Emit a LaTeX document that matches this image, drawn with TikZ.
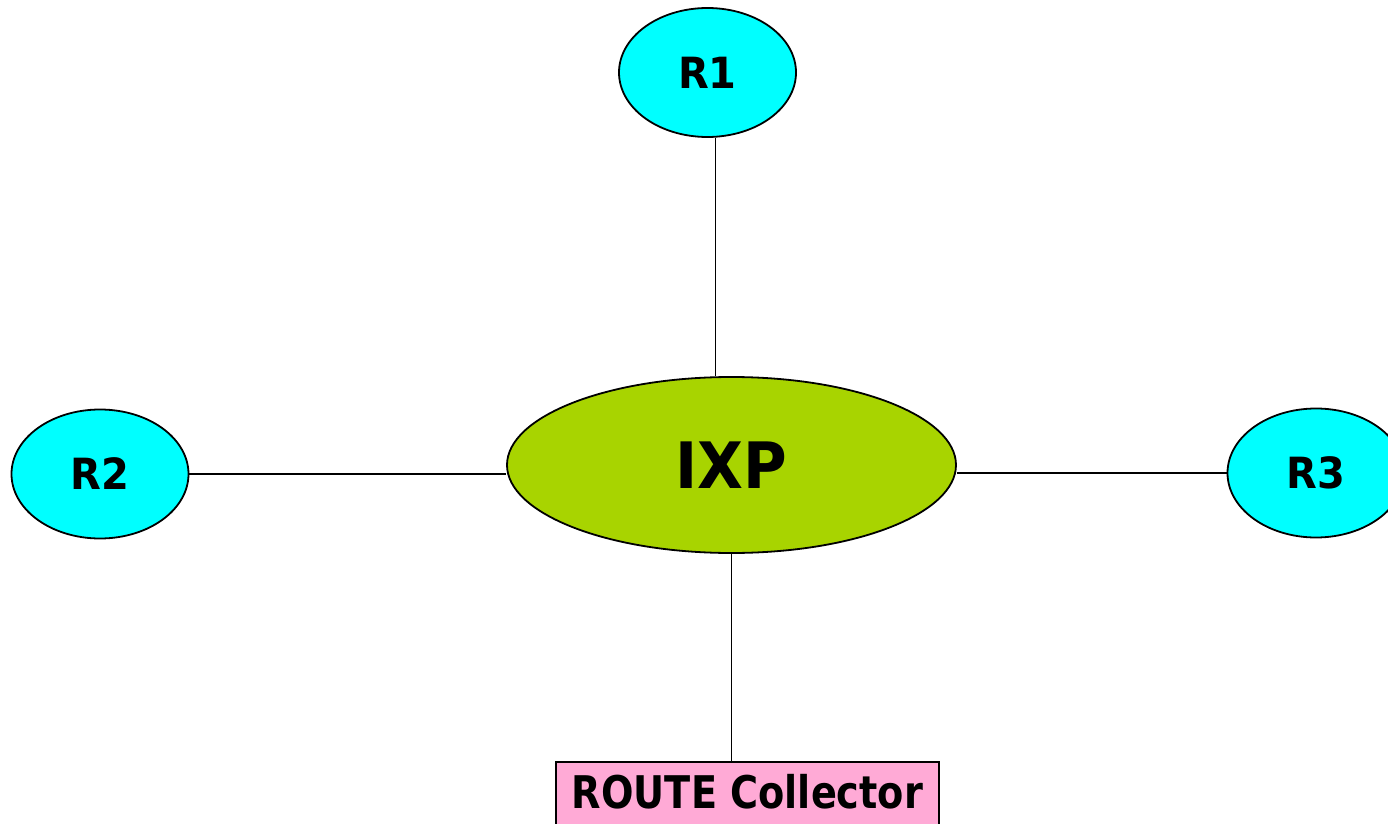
\documentclass[tikz,border=0pt]{standalone}
\usepackage{fontspec}
\setmainfont{DejaVu Sans}[FakeStretch=0.93]
\newfontfamily\collectorfont{DejaVu Sans}[FakeStretch=0.85]
\usepackage{xcolor}
\definecolor{colorRouter}{RGB}{0,255,255}
\definecolor{colorIXP}{RGB}{168,212,0}
\definecolor{colorCollector}{RGB}{255,170,214}
\usetikzlibrary{shapes.geometric}
\tikzset{router/.style={ellipse, draw, line width=0.9pt, fill=colorRouter, inner sep=0pt,
    minimum width=88.5pt, minimum height=64.5pt, font=\fontsize{21.5}{24}\selectfont\bfseries}}

\begin{document}
\begin{tikzpicture}[x=0.5pt, y=-0.5pt, line width=0.75pt]
\useasboundingbox (0,0) rectangle (1388,824);
\node[router] (r1) at (707.5,72.5) {R1};
\node[router] (r2) at (100,474) {R2};
\node[router] (r3) at (1316,473) {R3};
\node[ellipse, draw, line width=0.9pt, fill=colorIXP, inner sep=0pt, minimum width=224.5pt, minimum height=88pt,
    font=\fontsize{32}{36}\selectfont\bfseries] (ixp) at (731.5,465) {IXP};
\node[rectangle, draw, line width=0.9pt, fill=colorCollector, inner sep=0pt, minimum width=191.5pt, minimum height=36pt,
    text height=16.5pt, text depth=6pt, anchor=north,
    font=\collectorfont\fontsize{22.5}{26}\selectfont\bfseries] (rc) at (747.5,761) {ROUTE Collector};
\draw (r1.277) -- (r1.277 |- ixp.north);
\draw (r2.east) -- (r2.east -| ixp.west);
\draw (r3.west) -- (r3.west -| ixp.east);
\draw (ixp.south) -- (ixp.south |- rc.north);
\end{tikzpicture}
\end{document}
